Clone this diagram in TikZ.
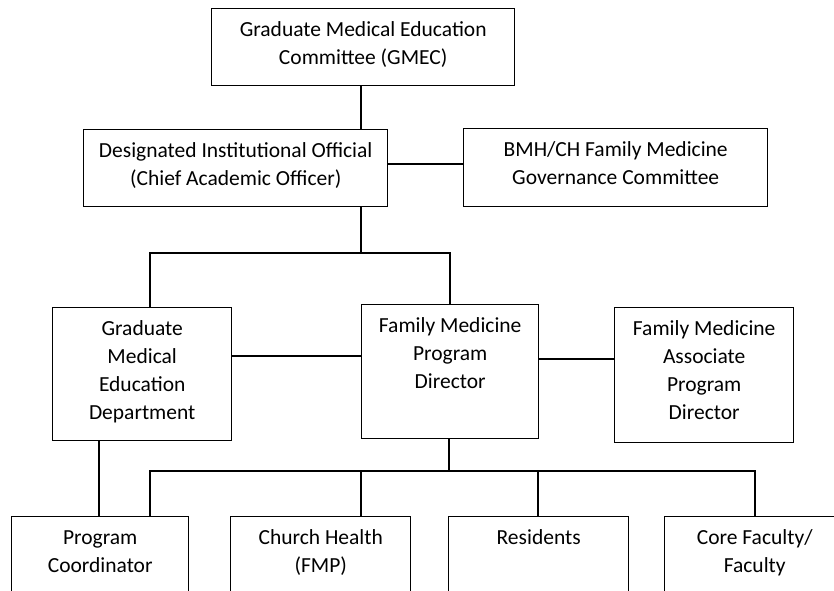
\documentclass[tikz,border=0pt]{standalone}
\usepackage{fontspec}
\setmainfont{Carlito}
\begin{document}
\begin{tikzpicture}[x=1pt,y=-1pt,
  box/.style={draw, line width=1.4pt, rectangle, inner sep=0pt, anchor=north west},
  lbl/.style={font=\fontsize{21.5}{28}\selectfont, align=center, anchor=north, inner sep=0pt},
  conn/.style={line width=1.4pt}]
\useasboundingbox (0,0) rectangle (834,590);
\clip (0,0) rectangle (834,590);
\fill[white] (0,0) rectangle (834,590);
% boxes
\node[box, minimum width=303pt, minimum height=77pt] (gmec) at (211,8) {};
\node[box, minimum width=304pt, minimum height=77pt] (dio) at (83,129) {};
\node[box, minimum width=304pt, minimum height=78pt] (bmh) at (463,128) {};
\node[box, minimum width=179pt, minimum height=133pt] (gmed) at (52,307) {};
\node[box, minimum width=177pt, minimum height=134pt] (fmpd) at (361,304) {};
\node[box, minimum width=179pt, minimum height=135pt] (assoc) at (614,307) {};
\node[box, minimum width=177pt, minimum height=100pt] (pc) at (11,516) {};
\node[box, minimum width=180pt, minimum height=100pt] (ch) at (230,516) {};
\node[box, minimum width=180pt, minimum height=100pt] (res) at (448,516) {};
\node[box, minimum width=180pt, minimum height=100pt] (cf) at (664,516) {};
% texts
\node[lbl] (gmect) at ([yshift=-8.5pt]gmec.north) {\strut Graduate Medical Education\\Committee (GMEC)};
\node[lbl] (diot) at ([yshift=-8.5pt]dio.north) {\strut Designated Institutional Official\\(Chief Academic Officer)};
\node[lbl] (bmht) at ([yshift=-8.5pt]bmh.north) {\strut BMH/CH Family Medicine\\Governance Committee};
\node[lbl] (gmedt) at ([yshift=-8.5pt]gmed.north) {\strut Graduate\\Medical\\Education\\Department};
\node[lbl] (fmpdt) at ([yshift=-8.5pt]fmpd.north) {\strut Family Medicine\\Program\\Director};
\node[lbl] (assoct) at ([yshift=-8.5pt]assoc.north) {\strut Family Medicine\\Associate\\Program\\Director};
\node[lbl] (pct) at ([yshift=-8.5pt]pc.north) {\strut Program\\Coordinator};
\node[lbl] (cht) at ([yshift=-8.5pt]ch.north) {\strut Church Health\\(FMP)};
\node[lbl] (rest) at ([yshift=-8.5pt]res.north) {\strut Residents};
\node[lbl] (cft) at ([yshift=-8.5pt]cf.north) {\strut Core Faculty/\\Faculty};
% connectors
\coordinate (j1) at (361,253);
\coordinate (jl) at (150,253);
\coordinate (jr) at (450,253);
\coordinate (b0) at (449,471);
\coordinate (bl) at (150,471);
\coordinate (br) at (755,471);
\coordinate (bch) at (361,471);
\coordinate (bres) at (538,471);
\coordinate (pcx) at (99,440);
\draw[conn] (gmec.south -| j1) -- (j1 |- dio.north);
\draw[conn] (dio.east |- 0,164) -- (bmh.west |- 0,164);
\draw[conn] (dio.south -| j1) -- (j1);
\draw[conn] (jl |- gmed.north) -- (jl) -- (jr) -- (jr |- fmpd.north);
\draw[conn] (gmed.east |- 0,356) -- (fmpd.west |- 0,356);
\draw[conn] (fmpd.east |- 0,359) -- (assoc.west |- 0,359);
\draw[conn] (gmed.south -| pcx) -- (pcx |- pc.north);
\draw[conn] (fmpd.south -| b0) -- (b0);
\draw[conn] (bl |- pc.north) -- (bl) -- (br) -- (br |- cf.north);
\draw[conn] (bch) -- (bch |- ch.north);
\draw[conn] (bres) -- (bres |- res.north);
\end{tikzpicture}
\end{document}
